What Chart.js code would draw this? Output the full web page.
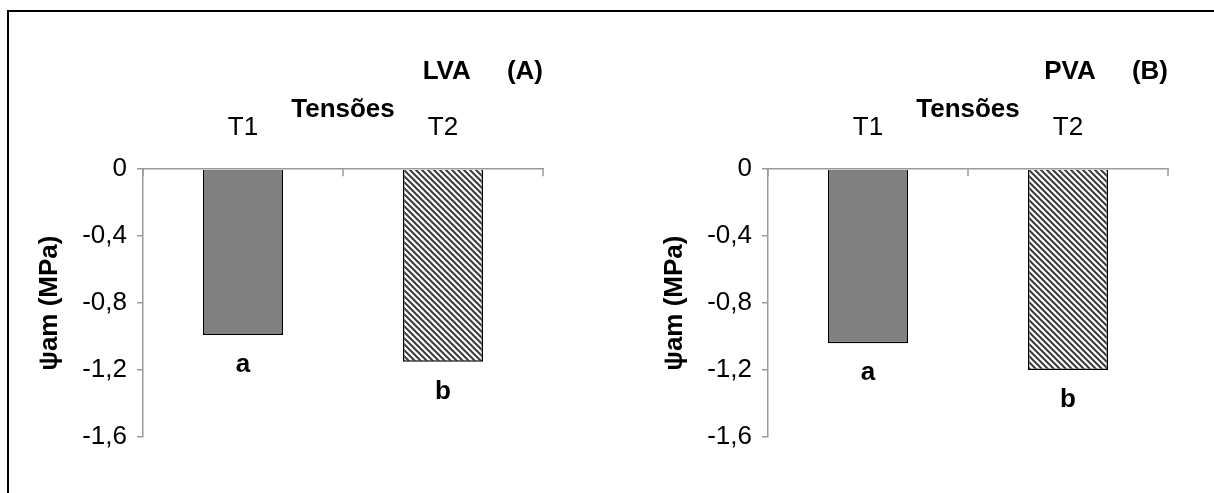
<!DOCTYPE html>
<html>
<head>
<meta charset="utf-8">
<script src="https://cdn.jsdelivr.net/npm/chart.js@4.4.1/dist/chart.umd.min.js"></script>
<style>
  html, body { margin: 0; padding: 0; background: #fff; }
  body { width: 1214px; height: 493px; position: relative; overflow: hidden; }
  .frame { position: absolute; left: 7px; top: 10px; right: -10px; bottom: -10px;
           border-left: 2px solid #000; border-top: 2px solid #000; }
  canvas { position: absolute; top: 0; }
  #chart-a { left: 0; }
  #chart-b { left: 625px; }
</style>
</head>
<body>
<div class="frame"></div>
<canvas id="chart-a" width="589" height="493"></canvas>
<canvas id="chart-b" width="589" height="493"></canvas>
<script>
// dados
const categories = ['T1', 'T2'];
const lvaValues = [-0.99, -1.15];
const pvaValues = [-1.04, -1.20];
const letters = ['a', 'b'];
const yTicks = [0, -0.4, -0.8, -1.2, -1.6];

const FONT = '"Liberation Sans", Arial, sans-serif';
const SIZE = 26;
const axisColor = '#9a9a9a';

// padrao hachurado (diagonal \) para T2
function hatch() {
    const c = document.createElement('canvas');
    c.width = 6; c.height = 6;
    const g = c.getContext('2d');
    g.fillStyle = '#fff';
    g.fillRect(0, 0, 6, 6);
    g.strokeStyle = '#3a3a3a';
    g.lineWidth = 2;
    g.beginPath();
    g.moveTo(-1, -1); g.lineTo(7, 7);
    g.moveTo(-1, 5); g.lineTo(1, 7);
    g.moveTo(5, -1); g.lineTo(7, 1);
    g.stroke();
    return g.createPattern(c, 'repeat');
}

// letras abaixo das barras + marcas do eixo x apontando para baixo
const marksPlugin = {
    id: 'marks',
    afterDatasetsDraw(chart) {
        const ctx = chart.ctx;
        const meta = chart.getDatasetMeta(0);
        ctx.save();
        ctx.font = 'bold ' + SIZE + 'px ' + FONT;
        ctx.fillStyle = '#000';
        ctx.textAlign = 'center';
        ctx.textBaseline = 'alphabetic';
        meta.data.forEach((bar, i) => ctx.fillText(letters[i], bar.x, bar.y + 37));

        const x = chart.scales.x;
        const top = chart.chartArea.top;
        ctx.strokeStyle = axisColor;
        ctx.lineWidth = 1.5;
        for (let i = 0; i <= categories.length; i++) {
            const px = Math.round(x.getPixelForValue(i - 0.5));
            ctx.beginPath();
            ctx.moveTo(px, top);
            ctx.lineTo(px, top + 7);
            ctx.stroke();
        }
        ctx.restore();
    }
};

function makeChart(id, values, title) {
    const ctx = document.getElementById(id);
    return new Chart(ctx, {
        type: 'bar',
        data: {
            labels: categories,
            datasets: [{
                data: values,
                backgroundColor: ['#808080', hatch()],
                borderColor: '#000',
                borderWidth: 1.5,
                barPercentage: 0.4,
                categoryPercentage: 1
            }]
        },
        options: {
            responsive: false,
            animation: false,
            layout: { padding: { top: 30, left: 31, right: 46, bottom: 56 } },
            plugins: {
                legend: { display: false },
                tooltip: { enabled: false },
                title: {
                    display: true,
                    text: title,
                    align: 'end',
                    color: '#000',
                    font: { family: FONT, size: SIZE, weight: 'bold' },
                    padding: { top: 26, bottom: 6 }
                }
            },
            scales: {
                x: {
                    position: 'top',
                    grid: { display: false },
                    border: { color: axisColor, width: 1.5 },
                    ticks: { color: '#000', font: { family: FONT, size: SIZE }, padding: 18 },
                    title: {
                        display: true,
                        text: 'Tensões',
                        color: '#000',
                        font: { family: FONT, size: SIZE, weight: 'bold' },
                        padding: { top: 1, bottom: 0 }
                    },
                    afterFit(s) { s.height = 76; }
                },
                y: {
                    min: -1.6,
                    max: 0,
                    grid: { drawOnChartArea: false, drawTicks: true, tickLength: 6, color: axisColor, lineWidth: 1.5 },
                    border: { color: axisColor, width: 1.5 },
                    ticks: {
                        color: '#000',
                        font: { family: FONT, size: SIZE },
                        padding: 10,
                        callback: v => v === 0 ? '0' : v.toFixed(1).replace('.', ',')
                    },
                    afterBuildTicks(s) { s.ticks = yTicks.map(v => ({ value: v })); },
                    title: {
                        display: true,
                        text: 'ψam (MPa)',
                        color: '#000',
                        font: { family: FONT, size: SIZE, weight: 'bold' },
                        padding: { top: 3, bottom: 0 }
                    },
                    afterFit(s) { s.width = 112; }
                }
            }
        },
        plugins: [marksPlugin]
    });
}

makeChart('chart-a', lvaValues, 'LVA     (A)');
makeChart('chart-b', pvaValues, 'PVA     (B)');
</script>
</body>
</html>
